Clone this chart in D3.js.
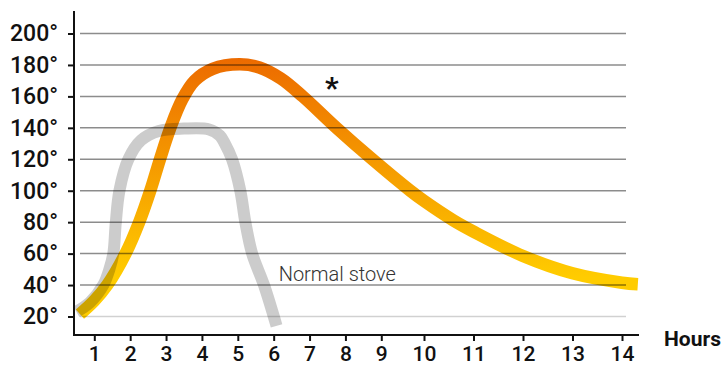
<!DOCTYPE html>
<html>
<head>
<meta charset="utf-8">
<script src="https://cdn.jsdelivr.net/npm/d3@7"></script>
<style>
  html, body { margin: 0; padding: 0; background: #fff; }
  svg { display: block; }
  text { font-family: Roboto, "Noto Sans", sans-serif; }
</style>
</head>
<body>
<svg id="chart" width="722" height="365"></svg>
<script>
// ---- data ----
const hourTicks = [1, 2, 3, 4, 5, 6, 7, 8, 9, 10, 11, 12, 13, 14];
const degreeTicks = [20, 40, 60, 80, 100, 120, 140, 160, 180, 200];

// Special stove (orange/yellow) : hours, degrees
const specialHours = [0.6, 1.0, 1.36, 1.87, 2.25, 2.56, 2.83, 3.12, 3.45, 3.8, 4.3, 5.05, 5.6, 6.2, 6.81, 7.75, 8.75, 9.68, 10.0, 10.6, 11.0, 12.0, 13.0, 14.0, 14.32];
const specialTemps = [21.5, 30, 40, 60, 80, 100, 120, 140, 158, 170, 177.5, 180.4, 178.4, 171.4, 160, 140, 120, 100, 93.5, 81, 74, 58.5, 47.5, 41.5, 40.5];

// Normal stove (grey)
const normalHours = [0.5, 0.88, 1.25, 1.42, 1.53, 1.6, 1.7, 1.95, 2.3, 2.8, 3.5, 4.2, 4.5, 4.64, 4.84, 5.07, 5.21, 5.4, 5.73, 6.08];
const normalTemps = [23, 29, 40, 50, 60, 80, 100, 120, 132, 138, 139.5, 139, 135, 130, 120, 100, 80, 60, 40, 14];

const normalLabel = "Normal stove";
const xAxisLabel = "Hours";

// ---- layout ----
const svg = d3.select("#chart");

const x = d3.scaleLinear()
  .domain([1, 9, 10, 14])
  .range([94.3, 381.3, 424, 622]);
const y = d3.scaleLinear()
  .domain([20, 200])
  .range([316.5, 33.5]);

const axisX0 = 74, axisY0 = 335;

// gradient for the special stove curve
const defs = svg.append("defs");
const grad = defs.append("linearGradient")
  .attr("id", "heat")
  .attr("gradientUnits", "userSpaceOnUse")
  .attr("x1", 0).attr("x2", 0)
  .attr("y1", y(185)).attr("y2", y(45));
grad.append("stop").attr("offset", "0%").attr("stop-color", "#EC6A00");
grad.append("stop").attr("offset", "55%").attr("stop-color", "#F6A000");
grad.append("stop").attr("offset", "100%").attr("stop-color", "#FFCC00");

const line = d3.line()
  .x(d => x(d[0]))
  .y(d => y(d[1]))
  .curve(d3.curveCatmullRom.alpha(0.5));

// special curve
svg.append("path")
  .datum(specialHours.map((h, i) => [h, specialTemps[i]]))
  .attr("d", line)
  .attr("fill", "none")
  .attr("stroke", "url(#heat)")
  .attr("stroke-width", 12.5)
  .attr("stroke-linecap", "butt");

// gridlines
svg.append("g")
  .selectAll("line")
  .data(degreeTicks)
  .join("line")
  .attr("x1", 80).attr("x2", 626)
  .attr("y1", d => y(d)).attr("y2", d => y(d))
  .attr("stroke", "#000")
  .attr("stroke-opacity", d => d === 20 ? 0.18 : 0.45)
  .attr("stroke-width", 1.5);

// normal stove curve (grey, translucent)
svg.append("path")
  .datum(normalHours.map((h, i) => [h, normalTemps[i]]))
  .attr("d", line)
  .attr("fill", "none")
  .attr("stroke", "#000")
  .attr("stroke-opacity", 0.2)
  .attr("stroke-width", 12)
  .attr("stroke-linecap", "butt");

// y axis
const yAxis = svg.append("g")
  .attr("transform", `translate(${axisX0},0)`)
  .call(d3.axisLeft(y).tickValues(degreeTicks).tickSize(6).tickPadding(10).tickFormat(d => d + "°"));
yAxis.select(".domain").remove();
yAxis.selectAll(".tick line").attr("stroke", "#111").attr("stroke-width", 2);
yAxis.selectAll(".tick text")
  .attr("fill", "#111")
  .style("font-size", "23px")
  .style("font-weight", 500)
  .style("font-family", "Roboto, sans-serif");
svg.append("line")
  .attr("x1", axisX0).attr("x2", axisX0)
  .attr("y1", 11).attr("y2", axisY0 + 1)
  .attr("stroke", "#111").attr("stroke-width", 2);

// x axis
const xAxis = svg.append("g")
  .attr("transform", `translate(0,${axisY0})`)
  .call(d3.axisBottom(x).tickValues(hourTicks).tickSize(6).tickPadding(5).tickFormat(d3.format("d")));
xAxis.select(".domain").remove();
xAxis.selectAll(".tick line").attr("stroke", "#111").attr("stroke-width", 2);
xAxis.selectAll(".tick text")
  .attr("fill", "#111")
  .style("font-size", "21px")
  .style("font-weight", 500)
  .style("font-family", "Roboto, sans-serif");
svg.append("line")
  .attr("x1", axisX0 - 1).attr("x2", 639)
  .attr("y1", axisY0).attr("y2", axisY0)
  .attr("stroke", "#111").attr("stroke-width", 2);

// axis title
svg.append("text")
  .attr("x", 664).attr("y", 345.5)
  .attr("fill", "#111")
  .style("font-size", "21px")
  .style("font-weight", 700)
  .text(xAxisLabel);

// annotations
svg.append("text")
  .attr("x", x(6.14)).attr("y", y(42.6))
  .attr("fill", "#333")
  .style("font-size", "20px")
  .style("font-weight", 300)
  .text(normalLabel);

svg.append("text")
  .attr("x", x(7.62)).attr("y", y(159))
  .attr("text-anchor", "middle")
  .attr("fill", "#111")
  .style("font-size", "30px")
  .style("font-weight", 700)
  .text("*");
</script>
</body>
</html>
